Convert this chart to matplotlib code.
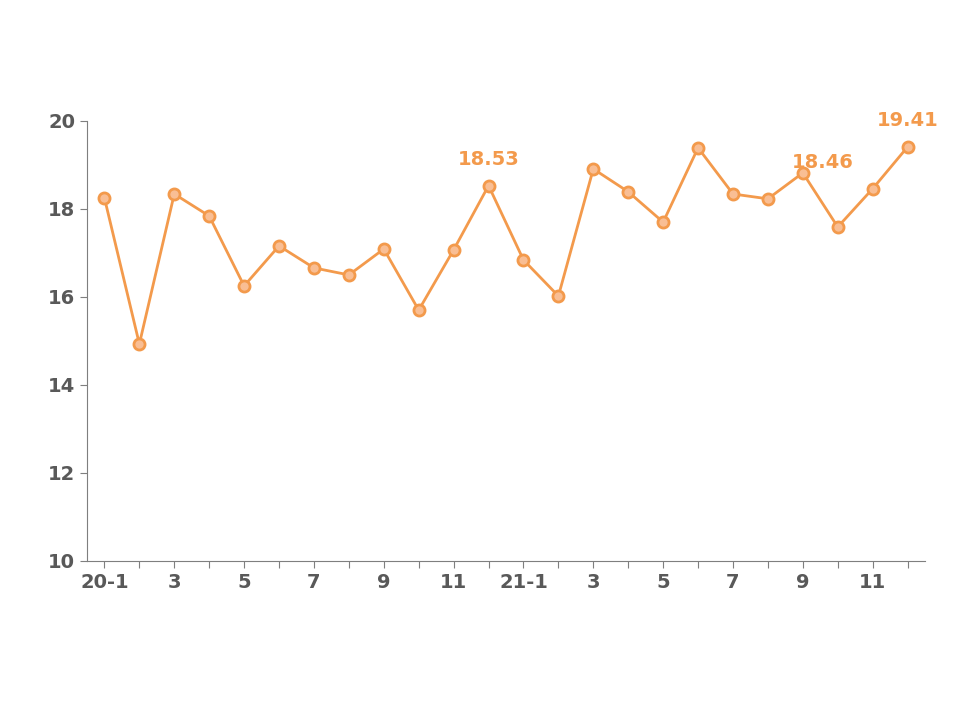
import matplotlib.pyplot as plt

values = [18.25, 14.93, 18.34, 17.84, 16.25, 17.16, 16.66, 16.50, 17.09, 15.70, 17.07, 18.53,
          16.84, 16.02, 18.91, 18.39, 17.70, 19.39, 18.34, 18.23, 18.82, 17.59, 18.46, 19.41]
labels = ['20-1', '', '3', '', '5', '', '7', '', '9', '', '11', '',
          '21-1', '', '3', '', '5', '', '7', '', '9', '', '11', '']
annotated = {11: '18.53', 22: '18.46', 23: '19.41'}

orange = '#F39A4C'
gray = '#595959'
x = list(range(1, len(values) + 1))

fig = plt.figure(figsize=(9.6, 7.2), dpi=100)
ax = fig.add_axes([0.0906, 0.221, 0.873, 0.611])
ax.plot(x, values, color=orange, lw=2, marker='o', ms=8,
        mfc='#F9BE94', mec=orange, mew=2, clip_on=False)

for i, txt in annotated.items():
    dx = -14 if i == 22 else 0
    ax.annotate(txt, (x[i], values[i]), xytext=(dx, 12), textcoords='offset points',
                ha='center' if dx == 0 else 'right', va='bottom',
                color=orange, fontsize=14, fontweight='bold', annotation_clip=False)

ax.set_xlim(0.5, 24.5)
ax.set_ylim(10, 20)
ax.set_xticks(x)
ax.set_xticklabels(labels)
ax.set_yticks([10, 12, 14, 16, 18, 20])
ax.tick_params(colors='#7f7f7f', labelcolor=gray, labelsize=14, length=5)
for lab in ax.get_xticklabels() + ax.get_yticklabels():
    lab.set_fontweight('bold')
for s in ['top', 'right']:
    ax.spines[s].set_visible(False)
for s in ['left', 'bottom']:
    ax.spines[s].set_color('#7f7f7f')

fig.savefig('out.png', dpi=100)
